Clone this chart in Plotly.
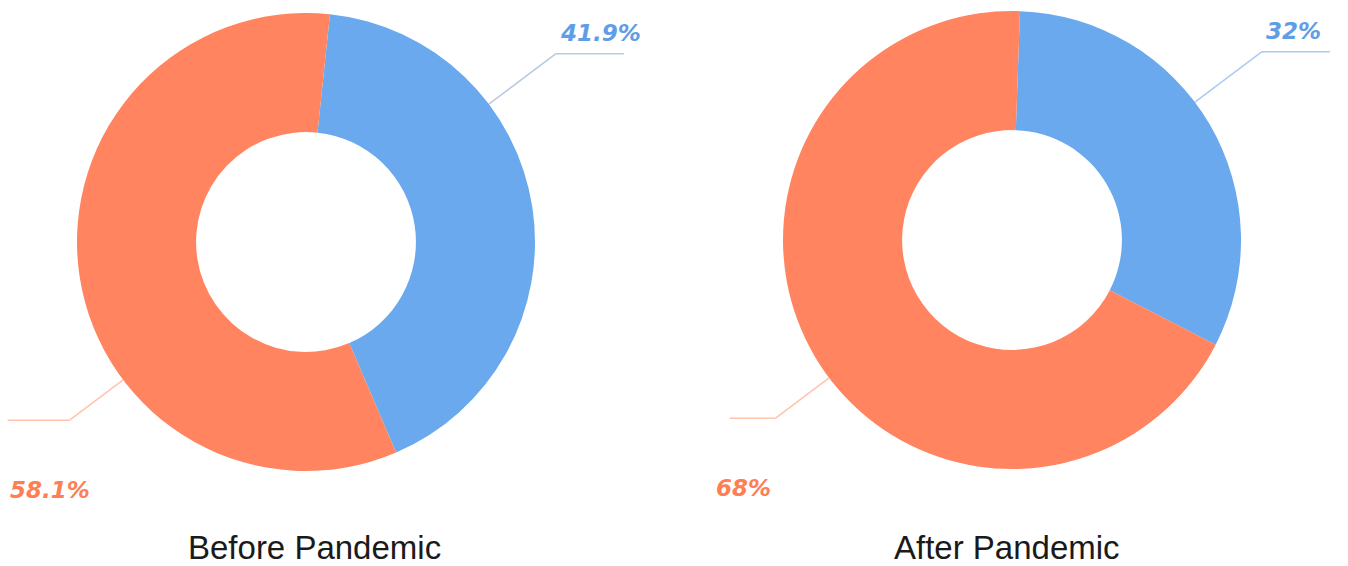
import math
import plotly.graph_objects as go

W, H = 1348, 566

# ---- data ----
categories = ["Category A", "Category B"]
before_values = [41.9, 58.1]
after_values = [32, 68]
panel_titles = ["Before Pandemic", "After Pandemic"]
before_labels = ["41.9%", "58.1%"]
after_labels = ["32%", "68%"]

BLUE = "#6aa9ee"
ORANGE = "#ff845f"
BLUE_TXT = "#5f9de6"
ORANGE_TXT = "#ff7e55"
BLUE_LINE_1 = "#b9c9de"
BLUE_LINE_2 = "#a9ccf4"
ORANGE_LINE = "#ffc3ad"


def px(x):
    return x / W


def py(y):
    return 1 - y / H


# geometry of the two panels (pixel layout)
panels = [
    dict(cx=306, cy=242, r=229, rot=6, values=before_values, labels=before_labels,
         title=panel_titles[0], title_x=314, blue_line=BLUE_LINE_1, o_len=62),
    dict(cx=1012, cy=240, r=229, rot=2, values=after_values, labels=after_labels,
         title=panel_titles[1], title_x=1007, blue_line=BLUE_LINE_2, o_len=46),
]

fig = go.Figure()
shapes = []
annotations = []

for p in panels:
    cx, cy, r = p["cx"], p["cy"], p["r"]
    fig.add_trace(go.Pie(
        labels=categories,
        values=p["values"],
        hole=0.48,
        sort=False,
        direction="clockwise",
        rotation=p["rot"],
        marker=dict(colors=[BLUE, ORANGE], line=dict(width=0)),
        textinfo="none",
        hoverinfo="label+percent",
        showlegend=False,
        domain=dict(x=[px(cx - r), px(cx + r)], y=[py(cy + r), py(cy - r)]),
    ))

    # leader line for the blue slice (upper right)
    ang = math.radians(53)
    x0, y0 = cx + r * math.sin(ang), cy - r * math.cos(ang)
    x1, y1 = cx + 313 * math.sin(ang), cy - 313 * math.cos(ang)
    x2 = x1 + 68
    shapes.append(dict(type="line", xref="paper", yref="paper",
                       x0=px(x0), y0=py(y0), x1=px(x1), y1=py(y1),
                       line=dict(color=p["blue_line"], width=1.5)))
    shapes.append(dict(type="line", xref="paper", yref="paper",
                       x0=px(x1), y0=py(y1), x1=px(x2), y1=py(y1),
                       line=dict(color=p["blue_line"], width=1.5)))
    annotations.append(dict(x=px(x1 + 2), y=py(y1 - 21), xref="paper", yref="paper",
                            text="<b><i>%s</i></b>" % p["labels"][0], showarrow=False,
                            xanchor="left", yanchor="middle",
                            font=dict(family="DejaVu Sans", size=23, color=BLUE_TXT)))

    # leader line for the orange slice (lower left)
    ang2 = math.radians(233)
    a0, b0 = cx + r * math.sin(ang2), cy - r * math.cos(ang2)
    a1, b1 = cx + 296 * math.sin(ang2), cy - 296 * math.cos(ang2)
    a2 = a1 - p["o_len"]
    shapes.append(dict(type="line", xref="paper", yref="paper",
                       x0=px(a0), y0=py(b0), x1=px(a1), y1=py(b1),
                       line=dict(color=ORANGE_LINE, width=1.5)))
    shapes.append(dict(type="line", xref="paper", yref="paper",
                       x0=px(a1), y0=py(b1), x1=px(a2), y1=py(b1),
                       line=dict(color=ORANGE_LINE, width=1.5)))
    annotations.append(dict(x=px(a1 - 62), y=py(b1 + 70), xref="paper", yref="paper",
                            text="<b><i>%s</i></b>" % p["labels"][1], showarrow=False,
                            xanchor="left", yanchor="middle",
                            font=dict(family="DejaVu Sans", size=23, color=ORANGE_TXT)))

    # panel title
    annotations.append(dict(x=px(p["title_x"]), y=py(547), xref="paper", yref="paper",
                            text=p["title"], showarrow=False,
                            xanchor="center", yanchor="middle",
                            font=dict(family="Liberation Sans", size=33, color="#1a1a1a")))

fig.update_layout(
    width=W, height=H,
    margin=dict(l=0, r=0, t=0, b=0),
    paper_bgcolor="white", plot_bgcolor="white",
    shapes=shapes, annotations=annotations,
    showlegend=False,
)

fig.write_html("out.html")
